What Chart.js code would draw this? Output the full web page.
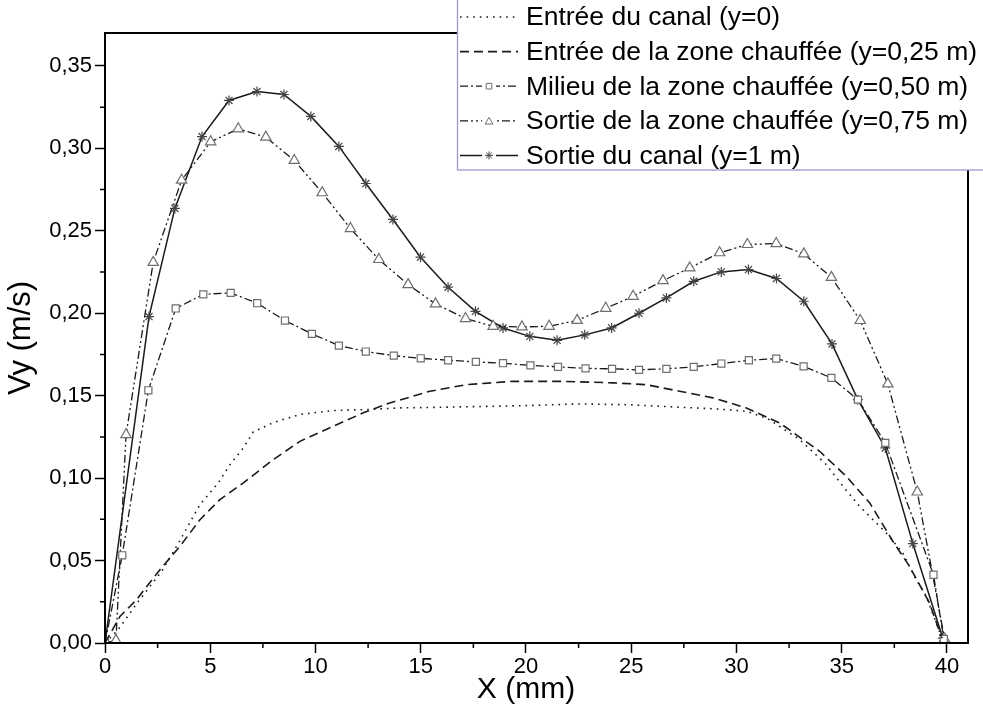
<!DOCTYPE html>
<html><head><meta charset="utf-8">
<script src="https://cdn.jsdelivr.net/npm/chart.js@4.4.1/dist/chart.umd.min.js"></script>
<style>html,body{margin:0;padding:0;background:#fff;overflow:hidden}#wrap{width:983px;height:710px}</style>
</head><body><div id="wrap"><canvas id="c" width="983" height="710"></canvas></div>
<script>
// ---- Data ----
const seriesLabels = [
  "Entrée du canal (y=0)",
  "Entrée de la zone chauffée (y=0,25 m)",
  "Milieu de la zone chauffée (y=0,50 m)",
  "Sortie de la zone chauffée (y=0,75 m)",
  "Sortie du canal (y=1 m)"
];
const xTitle = "X (mm)";
const yTitle = "Vy (m/s)";

// Entrée du canal (dotted)
const xEntree = [0, 0.62, 1.58, 2.69, 3.4, 4.51, 5.38, 5.94, 6.57, 7.04, 7.99, 9.26, 10.83, 12.42, 14.0, 16.0, 18.0, 20.0, 22.5, 25.0, 27.3, 29.0, 30.5, 31.5, 33.0, 34.27, 35.06, 35.85, 37.12, 37.9, 38.54, 39.02, 39.49, 39.8];
const yEntree = [0, 0.008, 0.0252, 0.0434, 0.0586, 0.0839, 0.0971, 0.1082, 0.1183, 0.128, 0.1337, 0.1386, 0.141, 0.1416, 0.1426, 0.143, 0.1435, 0.144, 0.145, 0.1445, 0.143, 0.142, 0.1405, 0.136, 0.1234, 0.1082, 0.095, 0.0829, 0.0667, 0.0546, 0.0384, 0.0283, 0.0121, 0.002];

// Entrée de la zone chauffée (dashed)
const xZoneIn = [0, 0.71, 1.5, 2.61, 3.56, 4.51, 5.46, 6.57, 7.99, 9.26, 10.84, 12.27, 13.53, 15.43, 17.17, 19.39, 21.76, 24.14, 25.72, 27.3, 28.88, 30.47, 32.05, 33.95, 35.22, 36.33, 37.43, 38.22, 39.17, 39.73];
const yZoneIn = [0, 0.0161, 0.0263, 0.0445, 0.0586, 0.0748, 0.087, 0.0971, 0.1112, 0.1223, 0.1314, 0.1396, 0.1456, 0.1527, 0.1567, 0.1587, 0.1587, 0.1578, 0.1567, 0.1527, 0.1487, 0.1426, 0.1335, 0.1163, 0.1011, 0.085, 0.0617, 0.0465, 0.0243, 0.004];

// Milieu de la zone chauffée (squares)
const xMilieu = [0, 0.82, 2.06, 3.36, 4.67, 5.97, 7.23, 8.55, 9.83, 11.11, 12.39, 13.72, 15.0, 16.3, 17.62, 18.91, 20.21, 21.52, 22.83, 24.09, 25.37, 26.67, 27.97, 29.28, 30.59, 31.89, 33.19, 34.51, 35.77, 37.07, 39.36, 39.85];
const yMilieu = [0, 0.0532, 0.1533, 0.2029, 0.2115, 0.2124, 0.2061, 0.1956, 0.1875, 0.1804, 0.1768, 0.1743, 0.1727, 0.1715, 0.1705, 0.1697, 0.1684, 0.1675, 0.1666, 0.1663, 0.1657, 0.1663, 0.1675, 0.1695, 0.1715, 0.1725, 0.1678, 0.1608, 0.1476, 0.1214, 0.0414, 0.0024];

// Sortie de la zone chauffée (triangles)
const xSortieZone = [0, 0.52, 1.0, 2.29, 3.64, 5.02, 6.33, 7.64, 8.99, 10.32, 11.66, 13.01, 14.4, 15.7, 17.13, 18.44, 19.81, 21.1, 22.43, 23.79, 25.09, 26.51, 27.78, 29.2, 30.52, 31.89, 33.2, 34.51, 35.88, 37.19, 38.59, 39.89];
const ySortieZone = [0, 0.0016, 0.1264, 0.2309, 0.2807, 0.304, 0.3119, 0.3068, 0.2927, 0.2731, 0.2514, 0.2326, 0.2174, 0.2057, 0.1968, 0.1921, 0.1917, 0.1921, 0.1957, 0.203, 0.2103, 0.2198, 0.2275, 0.2367, 0.2417, 0.2423, 0.236, 0.2218, 0.1956, 0.1572, 0.0916, 0.0024];

// Sortie du canal (stars, solid)
const xSortieCanal = [0, 2.09, 3.32, 4.61, 5.89, 7.22, 8.5, 9.78, 11.11, 12.39, 13.68, 14.99, 16.3, 17.6, 18.91, 20.18, 21.48, 22.79, 24.07, 25.37, 26.67, 27.97, 29.28, 30.57, 31.9, 33.2, 34.54, 35.77, 37.07, 38.38, 39.8];
const ySortieCanal = [0, 0.198, 0.2636, 0.3072, 0.3291, 0.3345, 0.3327, 0.3194, 0.3012, 0.2787, 0.2569, 0.234, 0.2158, 0.2012, 0.1911, 0.186, 0.1836, 0.1869, 0.1911, 0.2, 0.2093, 0.2194, 0.2251, 0.2265, 0.2211, 0.2073, 0.1814, 0.1476, 0.1183, 0.0603, 0.003];

const xMajorStep = 5, yMajorStep = 0.05;
const xLabelMax = 40;

// ---- Build ----
const pts = (xs, ys) => xs.map((x, i) => ({x: x, y: ys[i]}));
const FONT = "'Liberation Sans', Arial, sans-serif";
const lineCol = '#1a1a1a', markCol = '#6e6e6e';

const datasets = [
  {label: seriesLabels[0], data: pts(xEntree, yEntree), borderColor: lineCol, borderWidth: 1.6, borderDash: [1.6, 5], pointRadius: 0},
  {label: seriesLabels[1], data: pts(xZoneIn, yZoneIn), borderColor: lineCol, borderWidth: 1.6, borderDash: [9, 5], pointRadius: 0},
  {label: seriesLabels[2], data: pts(xMilieu, yMilieu), borderColor: lineCol, borderWidth: 1.3, borderDash: [8, 3, 2, 3], pointStyle: 'rect', pointRadius: 5, pointBorderColor: markCol, pointBackgroundColor: '#fff', pointBorderWidth: 1.2},
  {label: seriesLabels[3], data: pts(xSortieZone, ySortieZone), borderColor: lineCol, borderWidth: 1.3, borderDash: [8, 3, 2, 3, 2, 3], pointStyle: 'triangle', pointRadius: 6, pointBorderColor: markCol, pointBackgroundColor: '#fff', pointBorderWidth: 1.2},
  {label: seriesLabels[4], data: pts(xSortieCanal, ySortieCanal), borderColor: lineCol, borderWidth: 1.5, borderDash: [], pointStyle: 'star', pointRadius: 5, pointBorderColor: '#444', pointBackgroundColor: '#fff', pointBorderWidth: 1.2}
];
datasets.forEach(d => { d.tension = 0; d.fill = false; d.showLine = true; });

const framePlugin = {
  id: 'frame',
  afterDatasetsDraw(chart) {
    const {ctx, chartArea: a, scales: {x, y}} = chart;
    ctx.save();
    ctx.strokeStyle = '#000';
    ctx.lineWidth = 2;
    ctx.setLineDash([]);
    ctx.strokeRect(a.left, a.top, a.right - a.left, a.bottom - a.top);
    // minor ticks
    ctx.lineWidth = 1.5;
    ctx.beginPath();
    for (let v = xMajorStep / 2; v < x.max; v += xMajorStep) {
      const p = x.getPixelForValue(v);
      ctx.moveTo(p, a.bottom); ctx.lineTo(p, a.bottom + 5);
    }
    for (let v = yMajorStep / 2; v < y.max; v += yMajorStep) {
      const p = y.getPixelForValue(v);
      ctx.moveTo(a.left, p); ctx.lineTo(a.left - 5, p);
    }
    ctx.stroke();
    // x axis title, centred under the labelled range
    ctx.fillStyle = '#000';
    ctx.font = '30px ' + FONT;
    ctx.textAlign = 'center';
    ctx.textBaseline = 'middle';
    ctx.fillText(xTitle, (x.getPixelForValue(0) + x.getPixelForValue(xLabelMax)) / 2, 690);
    ctx.restore();
  }
};

const legendPlugin = {
  id: 'boxLegend',
  afterDraw(chart) {
    const ctx = chart.ctx;
    const L = 457.5, T = -2, W = 540, H = 172;
    ctx.save();
    ctx.setLineDash([]);
    ctx.fillStyle = '#fff';
    ctx.fillRect(L, T, W, H);
    ctx.strokeStyle = '#9a9ac8';
    ctx.lineWidth = 1.3;
    ctx.strokeRect(L, T, W, H);
    chart.data.datasets.forEach((ds, i) => {
      const yy = 17 + i * 34.6;
      ctx.strokeStyle = ds.borderColor;
      ctx.lineWidth = ds.borderWidth;
      ctx.setLineDash(ds.borderDash || []);
      ctx.beginPath(); ctx.moveTo(460, yy); ctx.lineTo(518, yy); ctx.stroke();
      ctx.setLineDash([]);
      if (ds.pointRadius > 0) {
        ctx.fillStyle = '#fff';
        ctx.fillRect(482, yy - 5, 14, 10);
        ctx.strokeStyle = ds.pointBorderColor;
        ctx.lineWidth = 1;
        Chart.helpers.drawPoint(ctx, {pointStyle: ds.pointStyle, radius: ds.pointStyle === 'triangle' ? 4.5 : 4, rotation: 0, borderWidth: 1}, 489, yy + (ds.pointStyle === 'triangle' ? 1 : 0));
      }
      ctx.fillStyle = '#000';
      ctx.font = '26.5px ' + FONT;
      ctx.textBaseline = 'middle';
      ctx.textAlign = 'left';
      ctx.fillText(ds.label, 526, yy + 1);
    });
    ctx.restore();
  }
};

new Chart(document.getElementById('c'), {
  type: 'scatter',
  data: {datasets: datasets},
  plugins: [framePlugin, legendPlugin],
  options: {
    responsive: false,
    animation: false,
    devicePixelRatio: 1,
    layout: {padding: {top: 33, right: 15, left: 0, bottom: 0}},
    plugins: {legend: {display: false}, tooltip: {enabled: false}},
    scales: {
      x: {
        type: 'linear', min: 0, max: 41,
        afterFit(s) { s.height = 67; },
        border: {display: false},
        grid: {drawOnChartArea: false, drawTicks: true, tickLength: 10, tickColor: '#000', tickWidth: 1.5},
        ticks: {stepSize: xMajorStep, includeBounds: false, color: '#000', padding: 1, maxRotation: 0,
          font: {family: FONT, size: 22}, callback: v => String(Math.round(v))},
        title: {display: false}
      },
      y: {
        type: 'linear', min: 0, max: 0.37,
        afterFit(s) { s.width = 105; },
        border: {display: false},
        grid: {drawOnChartArea: false, drawTicks: true, tickLength: 10, tickColor: '#000', tickWidth: 1.5},
        ticks: {stepSize: yMajorStep, includeBounds: false, color: '#000', padding: 3,
          font: {family: FONT, size: 22}, callback: v => v.toFixed(2).replace('.', ',')},
        title: {display: true, text: yTitle, color: '#000', font: {family: FONT, size: 31}, padding: {top: 3, bottom: 0}}
      }
    }
  }
});
</script>
</body></html>
